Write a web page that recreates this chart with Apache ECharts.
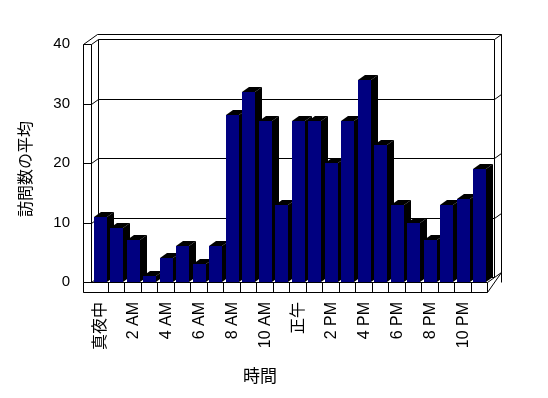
<!DOCTYPE html>
<html>
<head>
<meta charset="utf-8">
<script src="https://cdn.jsdelivr.net/npm/echarts@6/dist/echarts.min.js"></script>
<style>html,body{margin:0;padding:0;background:#fff}#c{width:548px;height:398px}</style>
</head>
<body>
<div id="c"></div>
<script>
const hours = ['真夜中','1 AM','2 AM','3 AM','4 AM','5 AM','6 AM','7 AM','8 AM','9 AM','10 AM','11 AM',
  '正午','1 PM','2 PM','3 PM','4 PM','5 PM','6 PM','7 PM','8 PM','9 PM','10 PM','11 PM'];
const visits = [11,9,7,1,4,6,3,6,28,32,27,13,27,27,20,27,34,23,13,10,7,13,14,19];
const yTicks = [0,10,20,30,40];
const yAxisTitle = '訪問数の平均';
const xAxisTitle = '時間';

const DX = 7, DY = -5;
const chart = echarts.init(document.getElementById('c'), null, {renderer:'canvas'});

function line(x1,y1,x2,y2){
  return {type:'line', shape:{x1:x1,y1:y1,x2:x2,y2:y2}, style:{stroke:'#000', lineWidth:1}, silent:true};
}

function renderWalls(params, api){
  const cs = params.coordSys;
  const x0 = Math.round(cs.x) - 0.5, x1 = Math.round(cs.x + cs.width) - 0.5;
  const y0 = Math.round(api.coord([0, yTicks[0]])[1]) + 0.5;
  const yt = Math.round(api.coord([0, yTicks[yTicks.length-1]])[1]) + 0.5;
  const xl = x0 - 8;
  const ch = [];
  // back wall white fill
  ch.push({type:'rect', shape:{x:x0+DX, y:yt+DY, width:x1-x0, height:y0-yt}, style:{fill:'#fff'}});
  // back wall outline
  ch.push(line(x0+DX, yt+DY, x1+DX, yt+DY));
  ch.push(line(x0+DX, yt+DY, x0+DX, y0+DY));
  ch.push(line(x1+DX, yt+DY, x1+DX, y0+DY));
  // outer thickness
  ch.push(line(xl+2*DX, yt+2*DY, x1+2*DX, yt+2*DY));
  ch.push(line(x1+2*DX, yt+2*DY, x1+2*DX, y0));
  ch.push(line(x1+DX, yt+DY, x1+2*DX, yt+2*DY));
  // left wall
  ch.push(line(xl, yt, xl, y0+10));
  ch.push(line(x0, yt, x0, y0));
  ch.push(line(xl, yt, x0, yt));
  ch.push(line(x0, yt, x0+DX, yt+DY));
  ch.push(line(xl, yt, xl+2*DX, yt+2*DY));
  // gridlines
  yTicks.forEach(function(v){
    const y = Math.round(api.coord([0, v])[1]) + 0.5;
    if (v !== yTicks[yTicks.length-1]) {
      ch.push(line(x0+DX, y+DY, x1+DX, y+DY));
      ch.push(line(x1+DX, y+DY, x1+2*DX, y+2*DY));
      ch.push(line(xl, y, x0, y));
      ch.push(line(x0, y, x0+DX, y+DY));
    }
  });
  return {type:'group', children:ch};
}

function renderFloor(params, api){
  const cs = params.coordSys;
  const x0 = Math.round(cs.x) - 0.5, x1 = Math.round(cs.x + cs.width) - 0.5;
  const y0 = Math.round(api.coord([0, 0])[1]) + 0.5;
  const xl = x0 - 8;
  const ch = [];
  ch.push({type:'rect', shape:{x:xl, y:y0, width:x1-xl, height:10}, style:{fill:'#fff', stroke:'#000', lineWidth:1}});
  for (let i = 1; i < hours.length; i++) {
    const xb = Math.round(api.coord([i, 0])[0] - api.size([1,0])[0]/2) - 0.5;
    ch.push(line(xb, y0, xb, y0+10));
  }
  ch.push(line(x1, y0, x1+DX, y0+DY));
  ch.push(line(x1, y0+10, x1+2*DX, y0+2*DY));
  return {type:'group', children:ch};
}

function renderBar(params, api){
  const c = api.coord([api.value(0), api.value(1)]);
  const b = api.coord([api.value(0), 0]);
  const w = Math.round(api.size([1,0])[0] * 0.77);
  const xl = Math.round(c[0] - w/2), xr = xl + w;
  const yt = Math.round(c[1]), yb = Math.round(b[1]);
  return {type:'group', children:[
    {type:'polygon', shape:{points:[[xr,yt],[xr+DX,yt+DY],[xr+DX,yb+DY],[xr,yb]]}, style:{fill:'#000'}},
    {type:'polygon', shape:{points:[[xl,yt],[xl+DX,yt+DY],[xr+DX,yt+DY],[xr,yt]]}, style:{fill:'#000'}},
    {type:'rect', shape:{x:xl, y:yt, width:w, height:yb-yt}, style:{fill:'#000080'}}
  ]};
}

chart.setOption({
  animation:false,
  backgroundColor:'#fff',
  grid:{left:92, right:60, top:44, bottom:116},
  xAxis:{type:'category', data:hours, axisLine:{show:false}, axisTick:{show:false}, splitLine:{show:false},
    axisLabel:{interval:1, rotate:90, margin:20, fontSize:16, color:'#000', fontFamily:"'Liberation Sans','Noto Sans CJK JP',sans-serif"}},
  yAxis:{type:'value', min:0, max:40, interval:10, axisLine:{show:false}, axisTick:{show:false}, splitLine:{show:false},
    axisLabel:{margin:22, fontSize:15, color:'#000', fontFamily:"'Liberation Sans',sans-serif"}},
  graphic:[
    {type:'text', x:25, y:169, rotation:Math.PI/2, style:{text:yAxisTitle, textAlign:'center', textVerticalAlign:'middle', font:'16px "Noto Sans CJK JP"', fill:'#000'}},
    {type:'text', x:260, y:376, style:{text:xAxisTitle, textAlign:'center', textVerticalAlign:'middle', font:'17px "Noto Sans CJK JP"', fill:'#000'}}
  ],
  series:[
    {type:'custom', z:1, renderItem:renderWalls, data:[[0,0]], silent:true},
    {type:'custom', z:2, renderItem:renderFloor, data:[[0,0]], silent:true},
    {type:'custom', z:3, renderItem:renderBar, data:visits.map(function(v,i){return [i,v];}), encode:{x:0,y:1}}
  ]
});
</script>
</body>
</html>
